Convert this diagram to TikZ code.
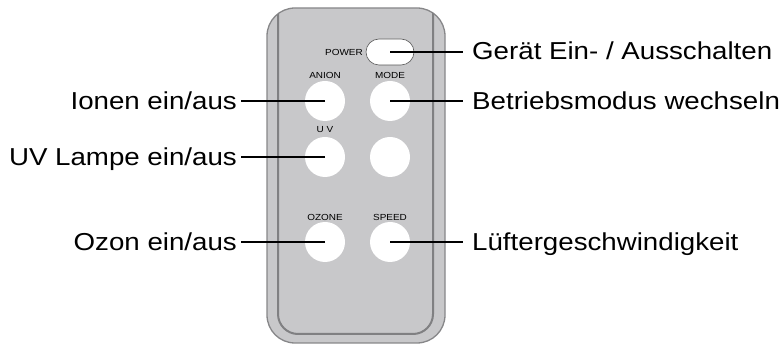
\documentclass[tikz,border=0pt]{standalone}
\usepackage{fontspec}
\setmainfont[FakeStretch=1.13]{Liberation Sans}
\definecolor{bodygray}{RGB}{200,200,202}
\definecolor{edgegray}{RGB}{135,135,137}
\definecolor{innergray}{RGB}{128,128,130}
\definecolor{pwedge}{RGB}{90,90,90}
\begin{document}
\begin{tikzpicture}[x=1pt,y=-1pt,
  btn/.style={circle,fill=white,minimum size=40pt,inner sep=0},
  btncap/.style={font=\fontsize{8.8}{10}\selectfont,inner sep=0},
  lbl/.style={font=\fontsize{24.5}{28}\selectfont,inner sep=0},
  lead/.style={line width=2pt,black}]
\useasboundingbox (0,0) rectangle (784,344);
% body
\path[fill=bodygray,draw=edgegray,line width=1.3pt,rounded corners=28pt] (267,8) rectangle (445,343);
\begin{scope}
\clip[rounded corners=28pt] (267,8) rectangle (445,343);
\draw[innergray,line width=2pt,rounded corners=20pt] (278,0) -- (278,334) -- (433,334) -- (433,0);
\end{scope}
% power button
\node[draw=pwedge,fill=white,rounded corners=13pt,minimum width=48pt,minimum height=26pt,inner sep=0,line width=0.6pt] (pw) at (390,52) {};
% round buttons
\node[btn] (an) at (325,101) {};
\node[btn] (md) at (390,101) {};
\node[btn] (uv) at (325,157) {};
\node[btn] (bl) at (390,157) {};
\node[btn] (oz) at (325,242) {};
\node[btn] (sp) at (390,242) {};
% captions
\node[btncap,anchor=east] (cpw) at (363,52) {POWER};
\node[btncap] (can) at (325,75) {ANION};
\node[btncap] (cmd) at (390,75) {MODE};
\node[btncap] (cuv) at (325,130) {U V};
\node[btncap] (coz) at (325,217) {OZONE};
\node[btncap] (csp) at (390,217) {SPEED};
% labels
\node[lbl,anchor=base west] (tpw) at (472,59.5) {Gerät Ein- / Ausschalten};
\node[lbl,anchor=base west] (tmd) at (472,109.5) {Betriebsmodus wechseln};
\node[lbl,anchor=base west] (tsp) at (472,250.5) {Lüftergeschwindigkeit};
\node[lbl,anchor=base east] (tan) at (237,110) {Ionen ein/aus};
\node[lbl,anchor=base east] (tuv) at (237,166) {UV Lampe ein/aus};
\node[lbl,anchor=base east] (toz) at (237,251) {Ozon ein/aus};
% leaders
\draw[lead] (pw.center) -- ([xshift=-9pt]pw.center -| tpw.west);
\draw[lead] (md.center) -- ([xshift=-9pt]md.center -| tmd.west);
\draw[lead] (sp.center) -- ([xshift=-9pt]sp.center -| tsp.west);
\draw[lead] (an.center) -- ([xshift=4pt]an.center -| tan.east);
\draw[lead] (uv.center) -- ([xshift=4pt]uv.center -| tuv.east);
\draw[lead] (oz.center) -- ([xshift=4pt]oz.center -| toz.east);
\end{tikzpicture}
\end{document}
